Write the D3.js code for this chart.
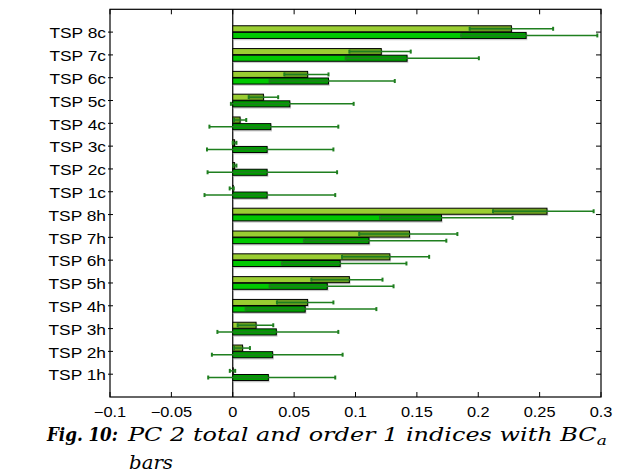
<!DOCTYPE html>
<html>
<head>
<meta charset="utf-8">
<script src="https://cdn.jsdelivr.net/npm/d3@7/dist/d3.min.js"></script>
<style>
  html, body { margin: 0; padding: 0; background: #fff; }
  svg { display: block; }
  .sans { font-family: 'Liberation Sans', Arial, Helvetica, sans-serif; }
  .serif { font-family: 'DejaVu Serif', serif; font-style: italic; }
</style>
</head>
<body>
<svg id="chart" width="620" height="475"></svg>
<script>
// ---------------- data ----------------
const categories = ["TSP 8c","TSP 7c","TSP 6c","TSP 5c","TSP 4c","TSP 3c","TSP 2c","TSP 1c",
                    "TSP 8h","TSP 7h","TSP 6h","TSP 5h","TSP 4h","TSP 3h","TSP 2h","TSP 1h"];
// light green series (upper bar in each group)
const totalVals = [0.227, 0.121, 0.061, 0.025, 0.006, 0.0015, 0.0015, 0.0003,
                   0.256, 0.144, 0.128, 0.095, 0.061, 0.019, 0.008, 0.0];
const totalLo   = [0.193, 0.095, 0.042, 0.013, 0.001, 0.0, 0.0005, -0.0025,
                   0.212, 0.103, 0.089, 0.064, 0.036, 0.004, 0.001, -0.0024];
const totalHi   = [0.261, 0.145, 0.078, 0.037, 0.011, 0.003, 0.003, 0.0008,
                   0.294, 0.183, 0.160, 0.122, 0.082, 0.033, 0.014, 0.002];
// bright green series (lower bar in each group)
const order1Vals = [0.239, 0.142, 0.078, 0.0465, 0.031, 0.028, 0.028, 0.028,
                    0.170, 0.111, 0.0875, 0.077, 0.059, 0.0355, 0.0325, 0.029];
const order1Lo   = [0.186, 0.092, 0.030, -0.0015, -0.019, -0.021, -0.0205, -0.023,
                    0.120, 0.058, 0.040, 0.030, 0.0105, -0.0125, -0.017, -0.020];
const order1Hi   = [0.297, 0.2005, 0.132, 0.0985, 0.086, 0.082, 0.085, 0.0835,
                    0.228, 0.174, 0.1415, 0.131, 0.117, 0.086, 0.0895, 0.0835];
const xTicks = [-0.1, -0.05, 0, 0.05, 0.1, 0.15, 0.2, 0.25, 0.3];
const xTickLabels = ["\u22120.1", "\u22120.05", "0", "0.05", "0.1", "0.15", "0.2", "0.25", "0.3"];
const captionBold = "Fig. 10:";
const captionText = "PC 2 total and order 1 indices with BC";
const captionSub = "a";
const captionLine2 = "bars";

// ---------------- layout ----------------
const pLeft = 110, pRight = 601, pTop = 9.3, pBottom = 397;
const svg = d3.select("#chart");

const x = d3.scaleLinear().domain([-0.1, 0.3]).range([pLeft, pRight]);
const y = d3.scaleLinear().domain([0, categories.length + 1]).range([pBottom, pTop]);
const pos = i => y(categories.length - i);
const step = Math.abs(y(1) - y(0));
const bh = step * 0.265;

const series = [
  { vals: totalVals, lo: totalLo, hi: totalHi, fill: "#9acd32", dark: "rgba(20,70,0,0.36)", off: -bh - 0.3 },
  { vals: order1Vals, lo: order1Lo, hi: order1Hi, fill: "#00c800", dark: "rgba(0,60,0,0.30)", off: 0.3 }
];

const g = svg.append("g");

// zero line
g.append("line")
  .attr("x1", x(0)).attr("x2", x(0)).attr("y1", pTop).attr("y2", pBottom)
  .attr("stroke", "#000").attr("stroke-width", 1.2);

series.forEach(s => {
  const sg = g.append("g");
  categories.forEach((c, i) => {
    const v = s.vals[i];
    const x0 = x(Math.min(0, v)), x1 = x(Math.max(0, v));
    const yy = pos(i) + s.off;
    // soft shadow
    sg.append("rect")
      .attr("x", x0).attr("y", yy + 1)
      .attr("width", Math.max(x1 - x0, 0.5) + 1.2).attr("height", bh + 0.8)
      .attr("fill", "#a8a8a8").attr("opacity", 0.6);
    sg.append("rect")
      .attr("x", x0).attr("y", yy)
      .attr("width", Math.max(x1 - x0, 0.5)).attr("height", bh)
      .attr("fill", s.fill).attr("stroke", "#000").attr("stroke-width", 1);
    // darker band inside bar between lower CI and bar end
    const lo = s.lo[i];
    if (v > lo && v - Math.max(lo, 0) > 0) {
      const a = x(Math.max(lo, 0)), b = x(v);
      sg.append("rect")
        .attr("x", a).attr("y", yy + 0.5)
        .attr("width", b - a).attr("height", bh - 1)
        .attr("fill", s.dark);
    }
    // error bar
    const cy = yy + bh / 2;
    sg.append("line")
      .attr("x1", x(s.lo[i])).attr("x2", x(s.hi[i]))
      .attr("y1", cy).attr("y2", cy)
      .attr("stroke", "#1f7f1f").attr("stroke-width", 1.5);
    [s.lo[i], s.hi[i]].forEach(e => {
      sg.append("line")
        .attr("x1", x(e)).attr("x2", x(e))
        .attr("y1", cy - 2).attr("y2", cy + 2)
        .attr("stroke", "#1f7f1f").attr("stroke-width", 2);
    });
  });
});

// frame
g.append("rect")
  .attr("x", pLeft).attr("y", pTop).attr("width", pRight - pLeft).attr("height", pBottom - pTop)
  .attr("fill", "none").attr("stroke", "#000").attr("stroke-width", 1.2);

// ticks (inward, mirrored)
const tl = 5;
xTicks.forEach(t => {
  g.append("line").attr("x1", x(t)).attr("x2", x(t)).attr("y1", pBottom).attr("y2", pBottom - tl)
    .attr("stroke", "#000").attr("stroke-width", 1);
  g.append("line").attr("x1", x(t)).attr("x2", x(t)).attr("y1", pTop).attr("y2", pTop + tl)
    .attr("stroke", "#000").attr("stroke-width", 1);
});
categories.forEach((c, i) => {
  g.append("line").attr("x1", pLeft - 2).attr("x2", pLeft + 3).attr("y1", pos(i)).attr("y2", pos(i))
    .attr("stroke", "#000").attr("stroke-width", 1);
  g.append("line").attr("x1", pRight).attr("x2", pRight - tl).attr("y1", pos(i)).attr("y2", pos(i))
    .attr("stroke", "#000").attr("stroke-width", 1);
});

// tick labels
xTicks.forEach((t, i) => {
  svg.append("text").attr("class", "sans")
    .attr("transform", `translate(${x(t)},416.7) scale(1.17,1)`)
    .attr("text-anchor", "middle")
    .attr("font-size", 14)
    .attr("fill", "#000")
    .text(xTickLabels[i]);
});
categories.forEach((c, i) => {
  svg.append("text").attr("class", "sans")
    .attr("transform", `translate(106,${pos(i) + 6.2}) scale(1.12,1)`)
    .attr("text-anchor", "end")
    .attr("font-size", 15.5)
    .attr("fill", "#000")
    .text(c);
});

// caption
function fitText(sel, x0, x1, baseline) {
  const w = sel.node().getComputedTextLength();
  sel.attr("transform", `translate(${x0},${baseline}) scale(${(x1 - x0) / w},1)`);
}
const boldT = svg.append("text").attr("class", "serif")
  .attr("font-size", 19).attr("font-weight", "bold").attr("fill", "#000")
  .text(captionBold);
fitText(boldT, 47, 118, 441);
const restT = svg.append("text").attr("class", "serif")
  .attr("font-size", 19).attr("fill", "#000");
restT.append("tspan").text(captionText);
restT.append("tspan").attr("font-size", 13.5).attr("dy", 3.5).text(captionSub);
fitText(restT, 128, 607, 441);
const barsT = svg.append("text").attr("class", "serif")
  .attr("font-size", 19).attr("fill", "#000")
  .text(captionLine2);
fitText(barsT, 129, 173, 469);
</script>
</body>
</html>
